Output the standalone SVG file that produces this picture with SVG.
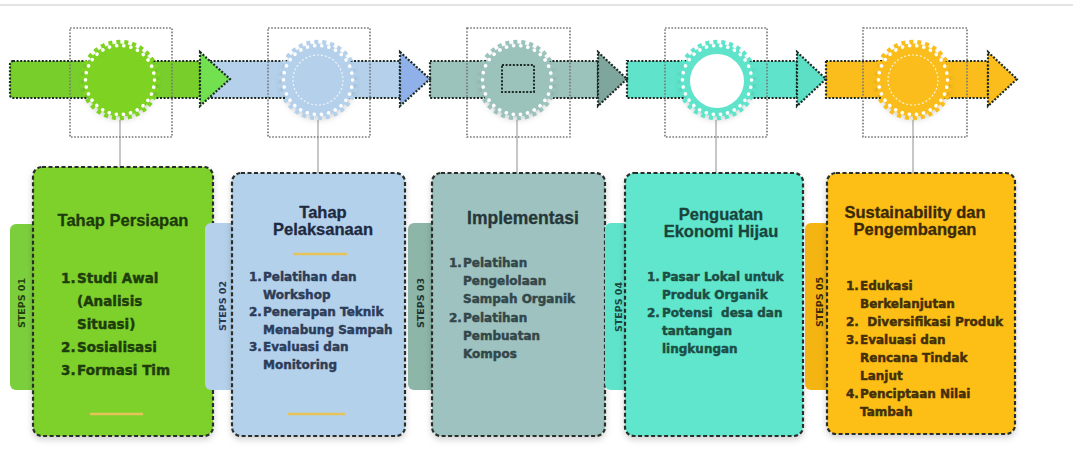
<svg xmlns="http://www.w3.org/2000/svg" width="1073" height="450" viewBox="0 0 1073 450">
<defs>
<filter id="sh" x="-20%" y="-20%" width="140%" height="140%"><feDropShadow dx="0" dy="3" stdDeviation="3" flood-color="#000" flood-opacity="0.18"/></filter>
<style>
.band{stroke:#1d2b24;stroke-width:2.2;stroke-dasharray:2 1.6}
.box{fill:none;stroke:#777;stroke-width:1.6;stroke-dasharray:1.6 1.6}
.teeth{fill:none;stroke-width:4.5;stroke-dasharray:4 3.96}
.dots{fill:none;stroke:#fff;stroke-width:3.6;stroke-linecap:round;stroke-dasharray:0.1 7.12}
.idots{fill:none;stroke:#fff;stroke-width:1.2;stroke-dasharray:2 2;opacity:0.8}
.link{stroke:#b5b5b5;stroke-width:1.5}
.card{stroke:#2a2f2c;stroke-width:2.2;stroke-dasharray:4 2.5}
.step{font-family:"DejaVu Sans",sans-serif;font-weight:bold;font-size:9.5px;text-anchor:middle}
.title{font-family:"Liberation Sans",Arial,sans-serif;font-weight:bold;font-size:16.5px;text-anchor:middle;stroke-width:0.3}
.item{font-family:"DejaVu Sans",sans-serif;font-weight:bold;font-size:12px;stroke-width:0.45}
.uline{stroke:#e6c35a;stroke-width:2.5}
</style>
</defs>
<rect width="1073" height="450" fill="#fff"/>
<line x1="0" y1="5" x2="1073" y2="5" stroke="#e4e4e4" stroke-width="2"/>

<g id="connectors">
<g id="band">
<rect class="band" x="826" y="61" width="162" height="37" fill="#fbbd1b"/>
<polygon class="band" points="988,52 1017,79 988,106" fill="#fbbd1b"/>
<rect class="band" x="627" y="61" width="170" height="37" fill="#5fe3cb"/>
<polygon class="band" points="797,52 826,79 797,106" fill="#5ddfc6"/>
<rect class="band" x="430" y="61" width="168" height="37" fill="#9cc2bc"/>
<polygon class="band" points="598,52 627,79 598,106" fill="#7fa69d"/>
<rect class="band" x="210" y="61" width="190" height="37" fill="#b4d0ea"/>
<polygon class="band" points="400,52 430,79 400,106" fill="#8fb0e8"/>
<rect class="band" x="10" y="61" width="190" height="37" rx="3" fill="#78cf2b"/>
<polygon class="band" points="200,52 230,79 200,106" fill="#72e04f"/>
</g>
<line class="link" x1="120" y1="120" x2="120" y2="168"/>
<line class="link" x1="318" y1="120" x2="318" y2="173"/>
<line class="link" x1="517" y1="120" x2="517" y2="173"/>
<line class="link" x1="716" y1="120" x2="716" y2="173"/>
<line class="link" x1="913" y1="120" x2="913" y2="173"/>
</g>

<g id="gear1">
<rect class="box" x="70" y="28" width="102" height="109"/>
<circle cx="120" cy="80" r="36.5" fill="#7ed321" filter="url(#sh)"/>
<circle class="teeth" cx="120" cy="80" r="38" stroke="#7ed321"/>
<circle class="dots" cx="120" cy="80" r="34.5"/>
</g>
<g id="gear2">
<rect class="box" x="268" y="28" width="102" height="109"/>
<circle cx="318" cy="80" r="36.5" fill="#b4d0ea" filter="url(#sh)"/>
<circle class="teeth" cx="318" cy="80" r="38" stroke="#b4d0ea"/>
<circle class="dots" cx="318" cy="80" r="34.5"/>
<circle class="idots" cx="318" cy="80" r="25"/>
</g>
<g id="gear3">
<rect class="box" x="467" y="28" width="103" height="109"/>
<circle cx="517" cy="80" r="36.5" fill="#9cc2bc" filter="url(#sh)"/>
<circle class="teeth" cx="517" cy="80" r="38" stroke="#9cc2bc"/>
<circle class="dots" cx="517" cy="80" r="34.5"/>
<rect x="502" y="65" width="32" height="27" fill="none" stroke="#1d2b24" stroke-width="2" stroke-dasharray="2 1.6"/>
</g>
<g id="gear4">
<rect class="box" x="665" y="28" width="102" height="109"/>
<circle cx="717" cy="80" r="36.5" fill="#5fe3cb" filter="url(#sh)"/>
<circle class="teeth" cx="717" cy="80" r="38" stroke="#5fe3cb"/>
<circle class="dots" cx="717" cy="80" r="34.5"/>
<circle cx="717" cy="81" r="27" fill="#fff"/>
</g>
<g id="gear5">
<rect class="box" x="863" y="28" width="104" height="109"/>
<circle cx="913" cy="80" r="36.5" fill="#fbbd1b" filter="url(#sh)"/>
<circle class="teeth" cx="913" cy="80" r="38" stroke="#fbbd1b"/>
<circle class="dots" cx="913" cy="80" r="34.5"/>
<circle class="idots" cx="913" cy="80" r="25"/>
</g>

<g id="step1">
<rect x="10" y="224" width="30" height="166" rx="6" fill="#7ccf3c"/>
<text class="step" transform="translate(24.5,303) rotate(-90)" fill="#24410f">STEPS 01</text>
<rect class="card" x="33" y="167" width="180" height="269" rx="9" fill="#7ed12b" filter="url(#sh)"/>
<text class="title" x="123" y="226" fill="#1d3a0c" stroke="#1d3a0c">Tahap Persiapan</text>
<g class="item" fill="#1e3d0c" stroke="#1e3d0c" style="font-size:13.5px">
<text x="61" y="283">1.</text><text x="77" y="283">Studi Awal</text>
<text x="77" y="306">(Analisis</text>
<text x="77" y="329">Situasi)</text>
<text x="61" y="352">2.</text><text x="77" y="352">Sosialisasi</text>
<text x="61" y="375">3.</text><text x="77" y="375">Formasi Tim</text>
</g>
<line class="uline" x1="90" y1="414" x2="143" y2="414"/>
</g>

<g id="step2">
<rect x="205" y="223" width="34" height="167" rx="6" fill="#b4d0ea"/>
<text class="step" transform="translate(226,306) rotate(-90)" fill="#2b3a55">STEPS 02</text>
<rect class="card" x="232" y="173" width="173" height="263" rx="9" fill="#b4d1ec" filter="url(#sh)"/>
<text class="title" x="323" y="218" fill="#1e2a40" stroke="#1e2a40">Tahap</text>
<text class="title" x="323" y="235" fill="#1e2a40" stroke="#1e2a40">Pelaksanaan</text>
<line class="uline" x1="293" y1="254" x2="347" y2="254"/>
<g class="item" fill="#2d3d58" stroke="#2d3d58">
<text x="249" y="281">1.</text><text x="263" y="281">Pelatihan dan</text>
<text x="263" y="298.5">Workshop</text>
<text x="249" y="316">2.</text><text x="263" y="316">Penerapan Teknik</text>
<text x="263" y="333.5">Menabung Sampah</text>
<text x="249" y="351">3.</text><text x="263" y="351">Evaluasi dan</text>
<text x="263" y="368.5">Monitoring</text>
</g>
<line class="uline" x1="288" y1="414" x2="345" y2="414"/>
</g>

<g id="step3">
<rect x="408" y="223" width="30" height="167" rx="6" fill="#8db5a8"/>
<text class="step" transform="translate(423.5,303) rotate(-90)" fill="#223532">STEPS 03</text>
<rect class="card" x="432" y="173" width="173" height="263" rx="9" fill="#9dc2bf" filter="url(#sh)"/>
<text class="title" x="523" y="224" fill="#26373a" stroke="#26373a" style="font-size:17.5px">Implementasi</text>
<g class="item" fill="#33474a" stroke="#33474a">
<text x="449" y="267">1.</text><text x="463" y="267">Pelatihan</text>
<text x="463" y="285">Pengelolaan</text>
<text x="463" y="303">Sampah Organik</text>
<text x="449" y="322">2.</text><text x="463" y="322">Pelatihan</text>
<text x="463" y="340">Pembuatan</text>
<text x="463" y="358">Kompos</text>
</g>
</g>

<g id="step4">
<rect x="605" y="223" width="28" height="167" rx="6" fill="#5fe3cb"/>
<text class="step" transform="translate(621.5,307) rotate(-90)" fill="#1a4a40">STEPS 04</text>
<rect class="card" x="625" y="173" width="178" height="263" rx="9" fill="#5fe6cc" filter="url(#sh)"/>
<text class="title" x="721" y="220" fill="#1a443b" stroke="#1a443b">Penguatan</text>
<text class="title" x="721" y="237" fill="#1a443b" stroke="#1a443b">Ekonomi Hijau</text>
<g class="item" fill="#1d4e44" stroke="#1d4e44">
<text x="647" y="281">1.</text><text x="662" y="281">Pasar Lokal untuk</text>
<text x="662" y="299">Produk Organik</text>
<text x="647" y="317">2.</text><text x="662" y="317" xml:space="preserve">Potensi  desa dan</text>
<text x="662" y="335">tantangan</text>
<text x="662" y="353">lingkungan</text>
</g>
</g>

<g id="step5">
<rect x="805" y="223" width="30" height="167" rx="6" fill="#f4b412"/>
<text class="step" transform="translate(823,302) rotate(-90)" fill="#3d2a05">STEPS 05</text>
<rect class="card" x="827" y="173" width="188" height="261" rx="9" fill="#fdbf17" filter="url(#sh)"/>
<text class="title" x="915" y="218" fill="#3a2a06" stroke="#3a2a06">Sustainability dan</text>
<text class="title" x="915" y="235" fill="#3a2a06" stroke="#3a2a06">Pengembangan</text>
<g class="item" fill="#43300a" stroke="#43300a">
<text x="846" y="290">1.</text><text x="860" y="290">Edukasi</text>
<text x="860" y="308">Berkelanjutan</text>
<text x="846" y="326" xml:space="preserve">2.  Diversifikasi Produk</text>
<text x="846" y="344">3.</text><text x="860" y="344">Evaluasi dan</text>
<text x="860" y="362">Rencana Tindak</text>
<text x="860" y="380">Lanjut</text>
<text x="846" y="398">4.</text><text x="860" y="398">Penciptaan Nilai</text>
<text x="860" y="416">Tambah</text>
</g>
</g>
</svg>
